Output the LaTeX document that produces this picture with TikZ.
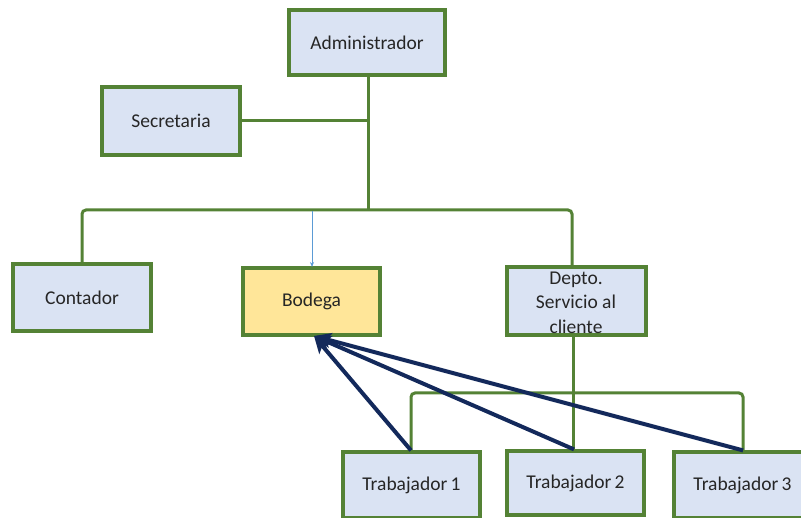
\documentclass[tikz,border=0pt]{standalone}
\usepackage{fontspec}
\setmainfont{Carlito}
\usetikzlibrary{arrows.meta}
\definecolor{boxgreen}{HTML}{548235}
\definecolor{boxfill}{HTML}{DAE3F3}
\definecolor{boxyellow}{HTML}{FFE699}
\definecolor{navy}{HTML}{13295B}
\definecolor{lblue}{HTML}{5B9BD5}
\definecolor{txt}{HTML}{262626}
\begin{document}
\begin{tikzpicture}[x=1pt,y=-1pt,
  orgbox/.style={draw=boxgreen, fill=boxfill, line width=3.2pt, rectangle,
    inner sep=0pt, align=center, text=txt,
    font=\fontsize{19.5}{24.5}\selectfont},
  conn/.style={draw=boxgreen, line width=3pt, rounded corners=4pt},
  worker/.style={draw=navy, line width=4pt, -{Stealth[length=17pt,width=15pt,inset=4pt]}}]
\useasboundingbox (0,0) rectangle (801,518);
\node[orgbox, minimum width=156pt, minimum height=65pt] (adm) at (367,42.5) {Administrador};
\node[orgbox, minimum width=138pt, minimum height=68pt] (sec) at (171,121) {Secretaria};
\node[orgbox, minimum width=138pt, minimum height=67pt] (con) at (82,297.5) {Contador};
\node[orgbox, fill=boxyellow, minimum width=137pt, minimum height=67pt] (bod) at (311.5,301.5) {Bodega};
\node[orgbox, minimum width=139pt, minimum height=68pt] (dep) at (576.5,301) {};
\node[font=\fontsize{19.5}{24.5}\selectfont, text=txt, align=center, inner sep=0pt] (deptxt) at (576,302.5) {Depto.\\Servicio al\\cliente};
\node[orgbox, minimum width=137pt, minimum height=66pt] (t1) at (411.5,485) {Trabajador\,1};
\node[orgbox, minimum width=137pt, minimum height=64pt] (t2) at (575.5,483) {Trabajador\,2};
\node[orgbox, minimum width=137pt, minimum height=66pt] (t3) at (742.5,485) {Trabajador\,3};
\coordinate (jsec) at (370,121);
\coordinate (bus) at (368,210);
\coordinate (bodtip) at (314,336);
% connectors
\draw[conn] (adm.south -| bus) -- (bus);
\draw[conn] (sec.east) -- (sec.east -| jsec);
\draw[conn] (con.north) -- (82,210) -- (572,210) -- (572,267);
\draw[conn] (573,335) -- (573,393);
\draw[conn] (t1.north -| 411,0) -- (411,393) -- (743,393) -- (t3.north -| 743,0);
\draw[conn] (t2.north -| 573,0) -- (573,393);
\draw[lblue, line width=0.9pt, -{Stealth[length=5pt,width=4pt]}] (312,211.5) -- (312,267);
\draw[worker] (t1.north -| 411,0) -- (bodtip);
\draw[worker] (t2.north -| 574,0) -- (bodtip);
\draw[worker] (t3.north -| 743,0) -- (bodtip);
\end{tikzpicture}
\end{document}
